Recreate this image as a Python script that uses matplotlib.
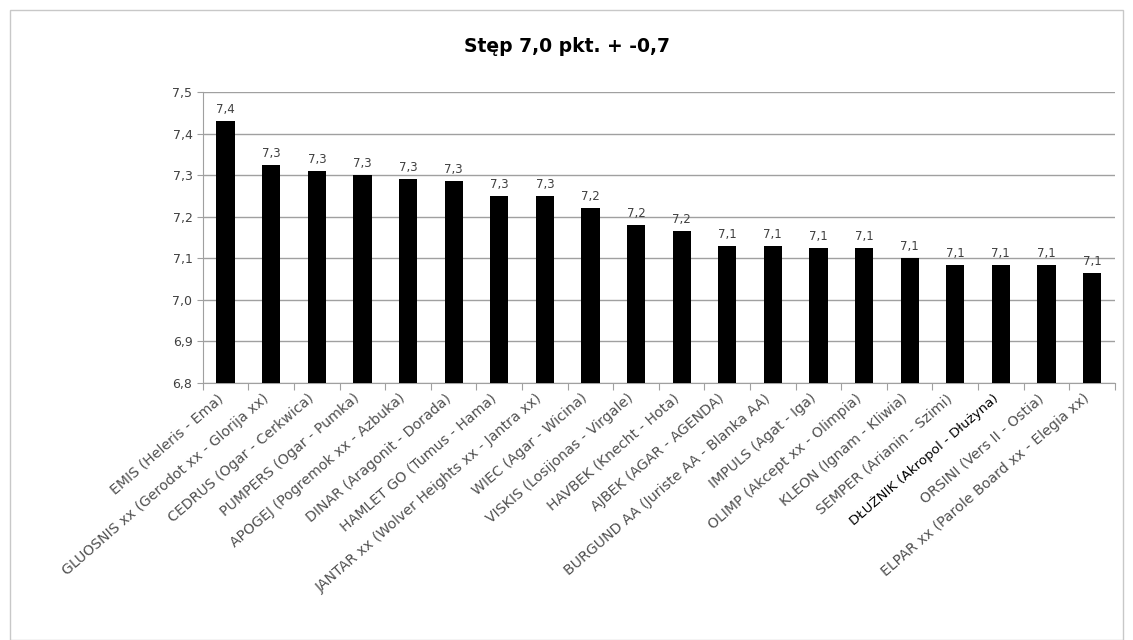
import matplotlib
matplotlib.use('Agg')
from matplotlib import pyplot as plt
from matplotlib.patches import Rectangle
from decimal import Decimal, ROUND_HALF_UP

# Horses and their scores
horses = ['EMIS (Heleris - Ema)', 'GLUOSNIS xx (Gerodot xx - Glorija xx)',
          'CEDRUS (Ogar - Cerkwica)', 'PUMPERS (Ogar - Pumka)',
          'APOGEJ (Pogremok xx - Azbuka)', 'DINAR (Aragonit - Dorada)',
          'HAMLET GO (Tumus - Hama)', 'JANTAR xx (Wolver Heights xx - Jantra xx)',
          'WIEC (Agar - Wicina)', 'VISKIS (Losijonas - Virgale)',
          'HAVBEK (Knecht - Hota)', 'AJBEK (AGAR - AGENDA)',
          'BURGUND AA (Juriste AA - Blanka AA)', 'IMPULS (Agat - Iga)',
          'OLIMP (Akcept xx - Olimpia)', 'KLEON (Ignam - Kliwia)',
          'SEMPER (Arianin - Szimi)', 'DŁUŻNIK (Akropol - Dłużyna)',
          'ORSINI (Vers II - Ostia)', 'ELPAR xx (Parole Board xx - Elegia xx)']
scores = [7.43, 7.325, 7.31, 7.30, 7.29, 7.285, 7.25, 7.25, 7.22, 7.18,
          7.165, 7.13, 7.13, 7.125, 7.125, 7.10, 7.083, 7.083, 7.083, 7.065]

fig = plt.figure(figsize=(11.33, 6.4), dpi=100)
ax = fig.add_axes([0.179, 0.4016, 0.805, 0.4547])

x = range(len(horses))
ax.bar(x, scores, width=0.4, color='black', zorder=3)

for i, v in enumerate(scores):
    txt = str(Decimal(str(v)).quantize(Decimal('0.1'), rounding=ROUND_HALF_UP)).replace('.', ',')
    ax.text(i, v + 0.012, txt, ha='center', va='bottom', fontsize=8.5, color='#404040')

ax.set_ylim(6.8, 7.5)
ax.set_xlim(-0.5, len(horses) - 0.5)
yt = [6.8 + 0.1 * k for k in range(8)]
ax.set_yticks(yt)
ax.set_yticklabels([f'{t:.1f}'.replace('.', ',') for t in yt], fontsize=9, color='#404040')
ax.yaxis.grid(True, color='#a0a0a0', linewidth=1, zorder=0)
ax.tick_params(axis='y', length=4, color='#a0a0a0')

# ticks between categories, labels at centers
ax.set_xticks([i - 0.5 for i in range(len(horses) + 1)])
ax.set_xticklabels([])
ax.tick_params(axis='x', length=5, color='#a0a0a0', direction='out')
for i, name in enumerate(horses):
    if name.startswith('DŁUŻNIK'):
        col, fs = 'black', 9.6
    else:
        col, fs = '#505050', 10.2
    ax.text(i - 0.2, 6.78, name, rotation=41, ha='right', va='top',
            rotation_mode='anchor', fontsize=fs, color=col)

for s in ['top', 'right']:
    ax.spines[s].set_visible(False)
ax.spines['left'].set_color('#a0a0a0')
ax.spines['bottom'].set_color('#a0a0a0')

fig.text(0.5, 0.928, 'Stęp 7,0 pkt. + -0,7', ha='center', va='center',
         fontsize=13.5, fontweight='bold', color='black')

# chart frame
fig.patches.append(Rectangle((0.009, 0.0), 0.982, 0.984, transform=fig.transFigure,
                             fill=False, edgecolor='#c8c8c8', linewidth=1))

fig.savefig('out.png', dpi=100)
